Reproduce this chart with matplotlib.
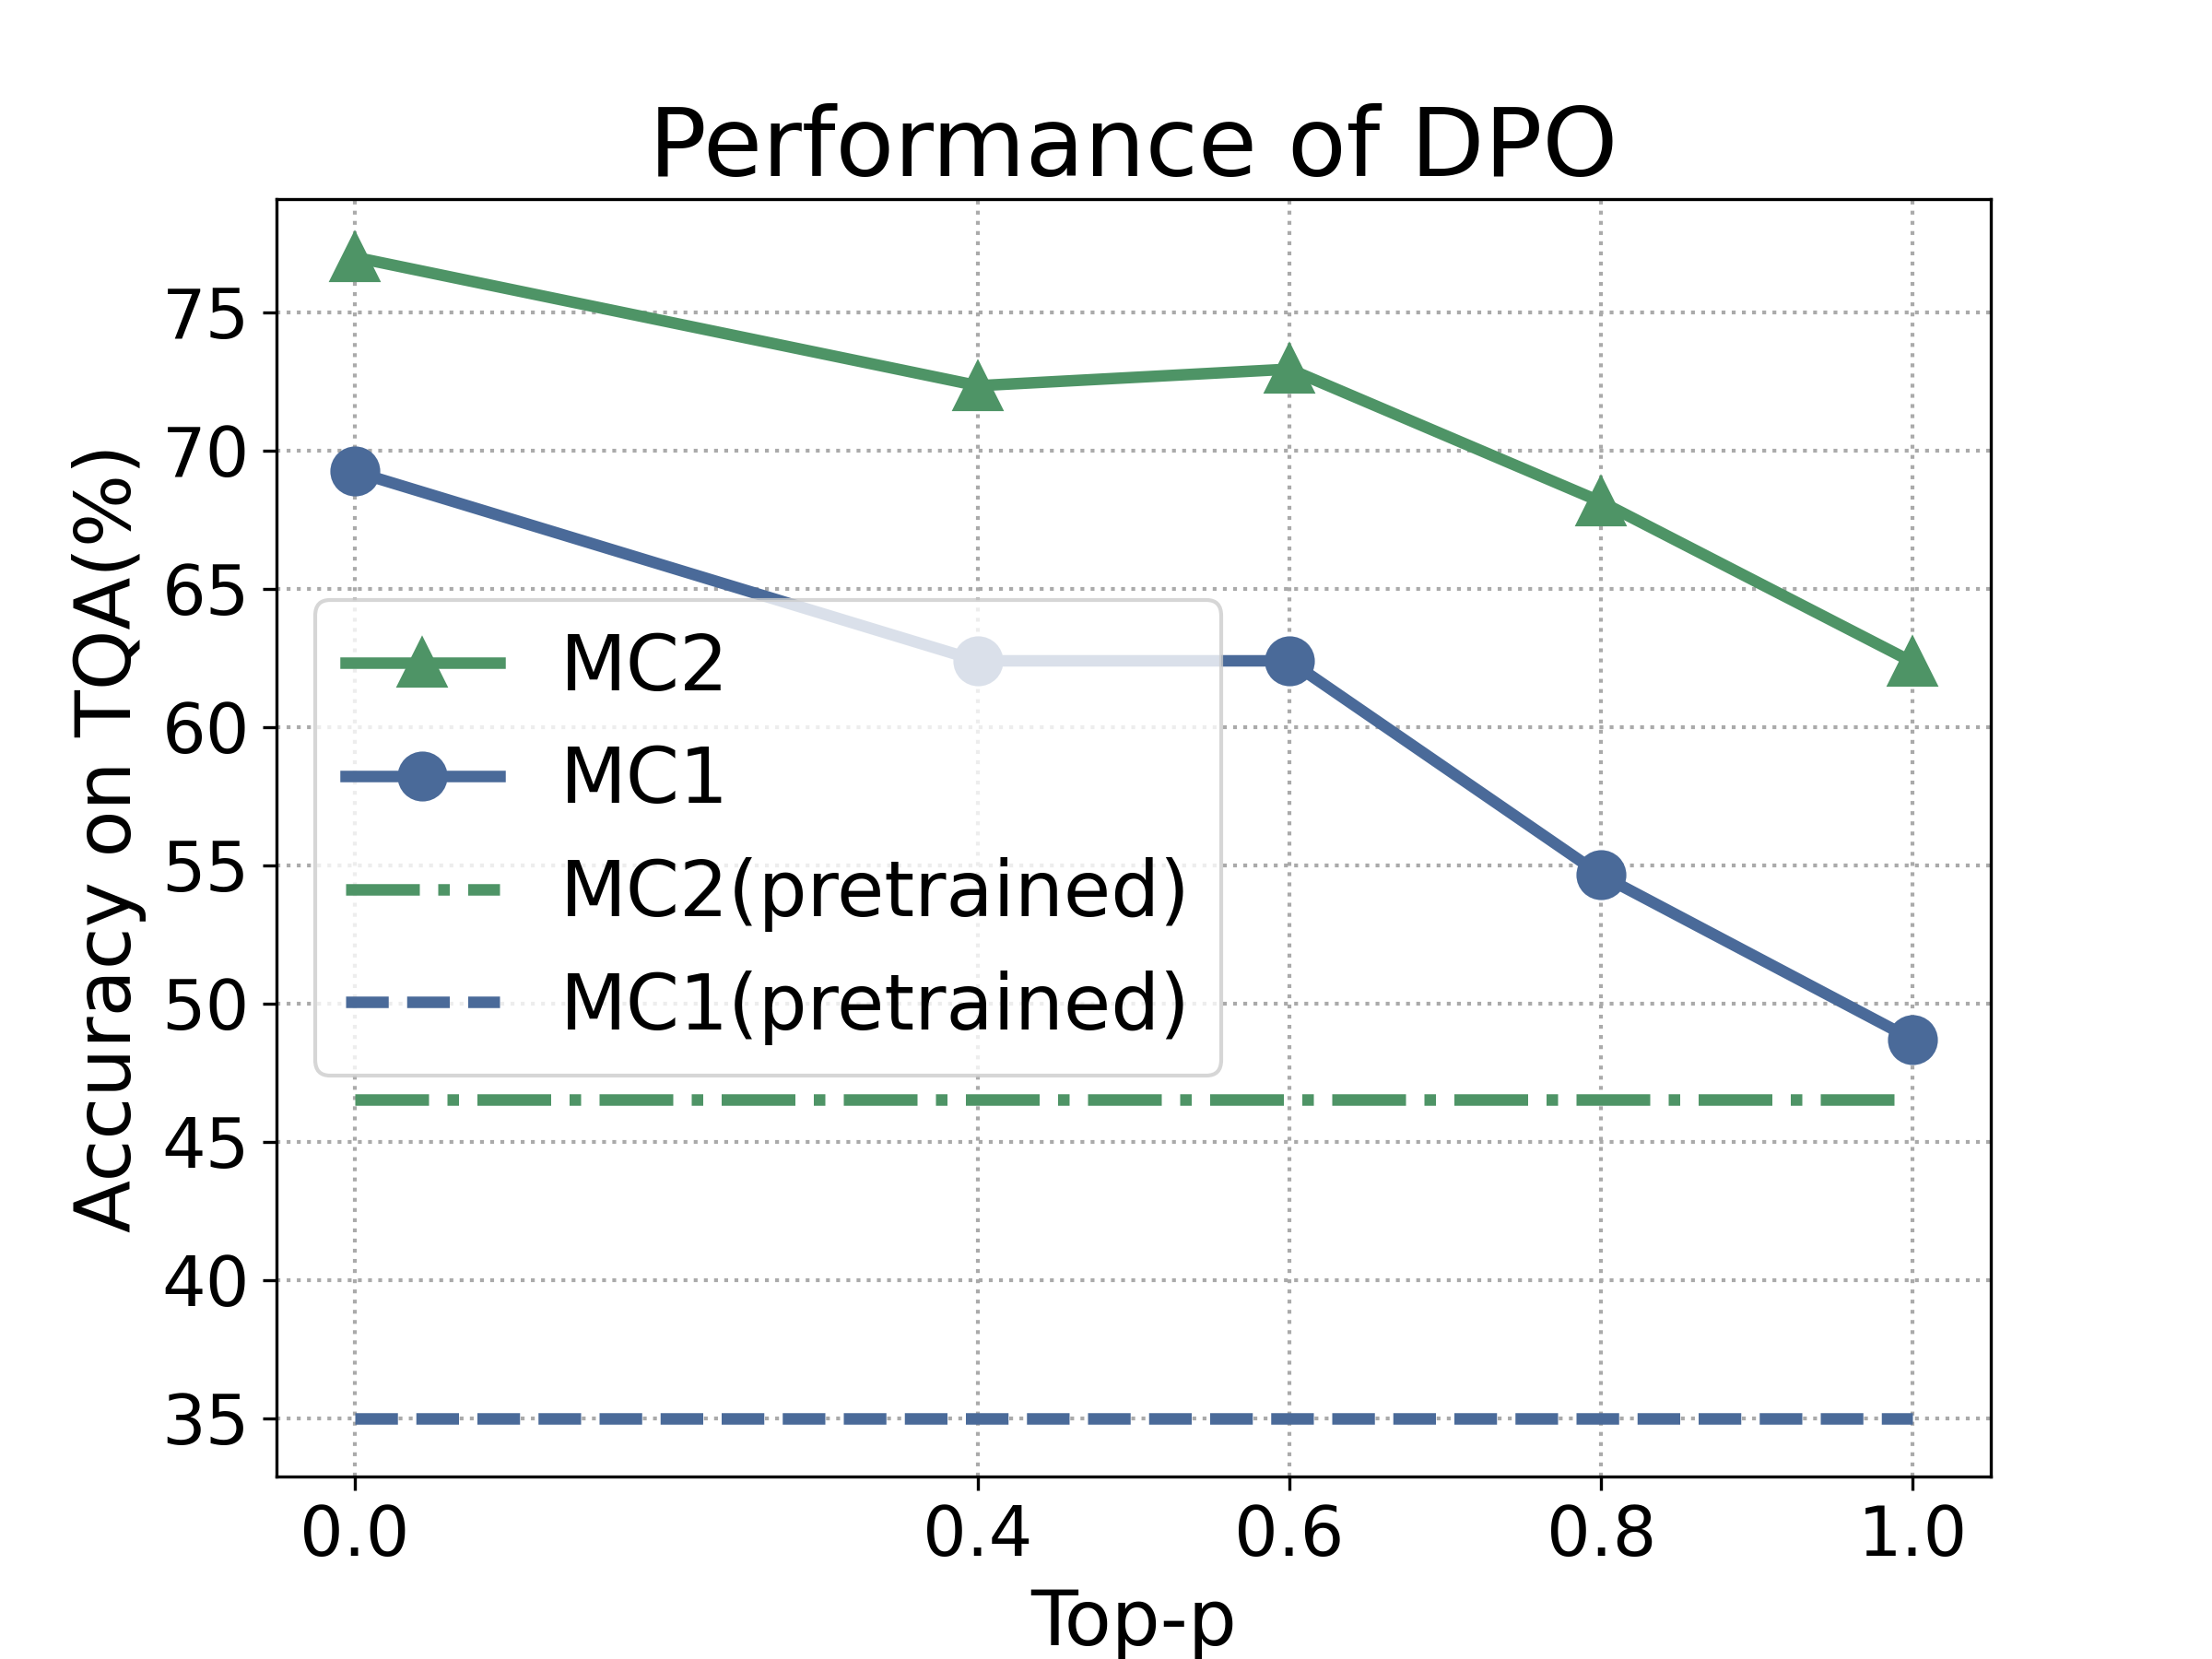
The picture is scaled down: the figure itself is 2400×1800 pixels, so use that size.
import matplotlib
matplotlib.use("Agg")
import matplotlib.pyplot as plt
from matplotlib.ticker import MultipleLocator

# data
top_p = [0.0, 0.4, 0.6, 0.8, 1.0]
mc2 = [77.0, 72.35, 72.95, 68.15, 62.35]
mc1 = [69.25, 62.4, 62.4, 54.65, 48.7]
mc2_pretrained = [46.55] * len(top_p)
mc1_pretrained = [35.0] * len(top_p)
xtick_labels = ["0.0", "0.4", "0.6", "0.8", "1.0"]

green = "#4e9466"
blue = "#4a6a99"

fig, ax = plt.subplots(figsize=(8, 6), dpi=300)

ax.plot(top_p, mc2, color=green, marker="^", markersize=12, linewidth=3, label="MC2")
ax.plot(top_p, mc1, color=blue, marker="o", markersize=12, linewidth=3, label="MC1")
ax.plot(top_p, mc2_pretrained, color=green, linestyle="-.", linewidth=3, label="MC2(pretrained)")
ax.plot(top_p, mc1_pretrained, color=blue, linestyle="--", linewidth=3, label="MC1(pretrained)")

ax.set_xticks(top_p)
ax.set_xticklabels(xtick_labels)
ax.yaxis.set_major_locator(MultipleLocator(5))
ax.tick_params(axis="both", labelsize=18)

ax.set_title("Performance of DPO", fontsize=25)
ax.set_xlabel("Top-p", fontsize=20)
ax.set_ylabel("Accuracy on TQA(%)", fontsize=20)

ax.grid(True, linestyle=":", color="#aaaaaa", linewidth=1)
ax.legend(loc="center left", fontsize=20)

plt.savefig("out.png", dpi=300)
